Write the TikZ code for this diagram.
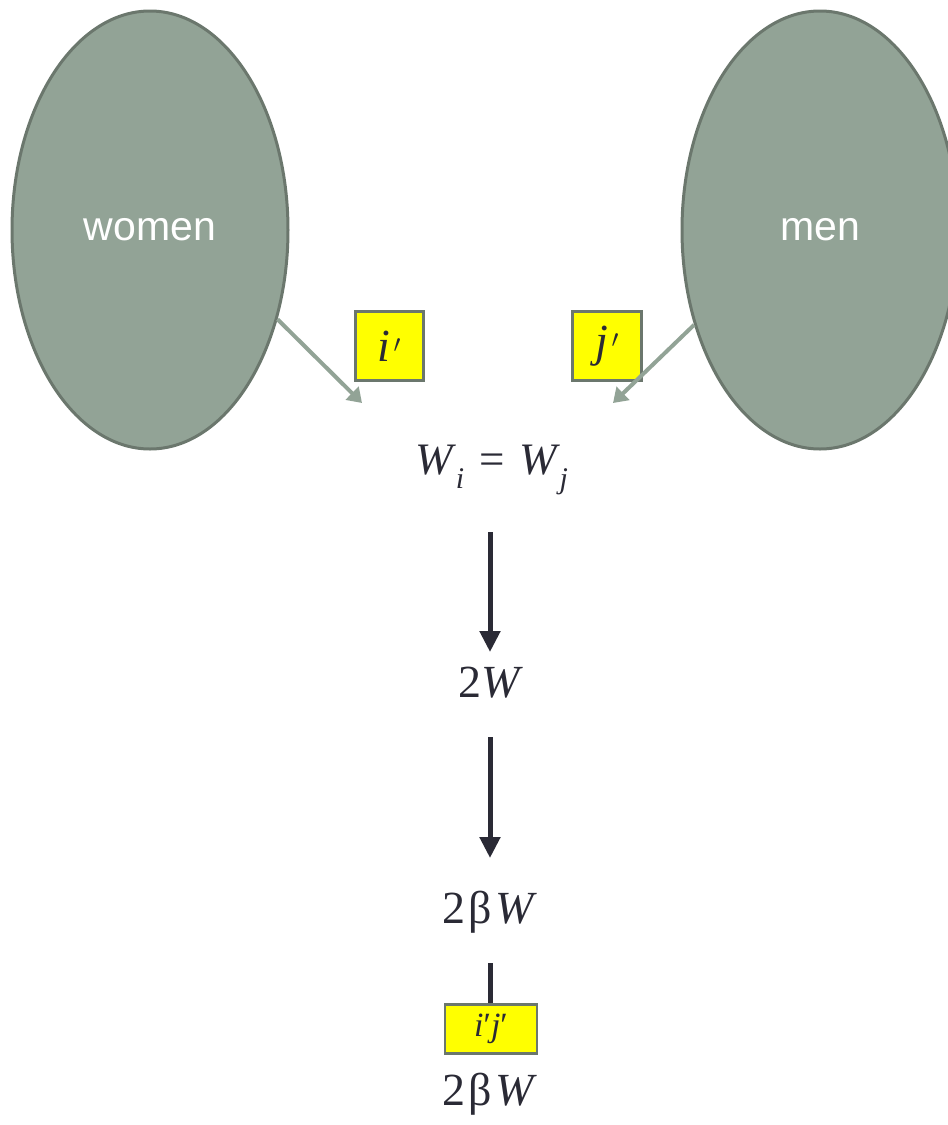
\documentclass[tikz,border=0pt]{standalone}
\usepackage{fontspec}
\setmainfont{Liberation Serif}
\setsansfont{Liberation Sans}
\usetikzlibrary{shapes.geometric,arrows.meta}
\definecolor{sage}{HTML}{92A396}
\definecolor{sageedge}{HTML}{6B776D}
\definecolor{ink}{HTML}{2A2A35}
\definecolor{tagfill}{HTML}{FFFF00}
\newcommand{\Wsub}[1]{\textit{W}\kern-0.02em\raisebox{-0.32em}{\fontsize{30}{30}\selectfont\textit{#1}}}
\newcommand{\mprime}{\kern0.08em$^{\prime}$}
\begin{document}
\begin{tikzpicture}[x=1pt,y=-1pt,
  group/.style={ellipse,draw=sageedge,line width=3pt,fill=sage,text=white,
    font=\sffamily\fontsize{41}{48}\selectfont,minimum width=276pt,minimum height=438pt,inner sep=0pt},
  tag/.style={draw=sageedge,line width=3pt,fill=tagfill,inner sep=0pt,text=ink,font=\fontsize{46}{48}\selectfont},
  feed/.style={draw=sage,line width=4pt,-{Triangle[length=14pt,width=18pt]}},
  flow/.style={draw=ink,line width=5pt,-{Triangle[length=21pt,width=20pt]}},
  expr/.style={text=ink,inner sep=0pt,font=\fontsize{46}{52}\selectfont}]
\useasboundingbox (0,0) rectangle (948,1125);
% the two populations
\node[group] (women) at (150,230) {\raisebox{-4pt}{women}};
\node[group] (men) at (820,230) {\raisebox{-4pt}{men}};
% matched agents
\node[tag,minimum width=68pt,minimum height=69pt] (ip) at (389,346) {\textit{i}\mprime};
\node[tag,minimum width=69pt,minimum height=69pt] (jp) at (607,346) {\textit{j}\mprime};
\coordinate (inL) at (362,403);
\coordinate (inR) at (613,403);
\draw[feed] (women.-35) -- (inL);
\draw[feed] (men.217) -- (inR);
% payoff chain
\node[expr,font=\fontsize{45}{48}\selectfont] (eq) at (492,470)
  {\Wsub{i}\,\,=\,\,\Wsub{j}};
\node[expr] (w2) at (491,683) {2\textit{W}};
\node[expr] (bw) at (490,912) {2\kern3pt β\kern3pt\textit{W}};
\node[tag,line width=2.5pt,minimum width=92pt,minimum height=49pt,font=\fontsize{34}{36}\selectfont] (pair) at (491,1029)
  {\textit{i}′\textit{j}′};
\node[expr] (bw2) at (490,1094) {2\kern3pt β\kern3pt\textit{W}};
\coordinate (a1) at (490,532);
\coordinate (b1) at (490,652);
\coordinate (a2) at (490,737);
\coordinate (b2) at (490,858);
\coordinate (a3) at (490,963);
\draw[flow] (a1) -- (b1);
\draw[flow] (a2) -- (b2);
\draw[draw=ink,line width=5pt] (a3) -- (pair.north -| a3);
\end{tikzpicture}
\end{document}
